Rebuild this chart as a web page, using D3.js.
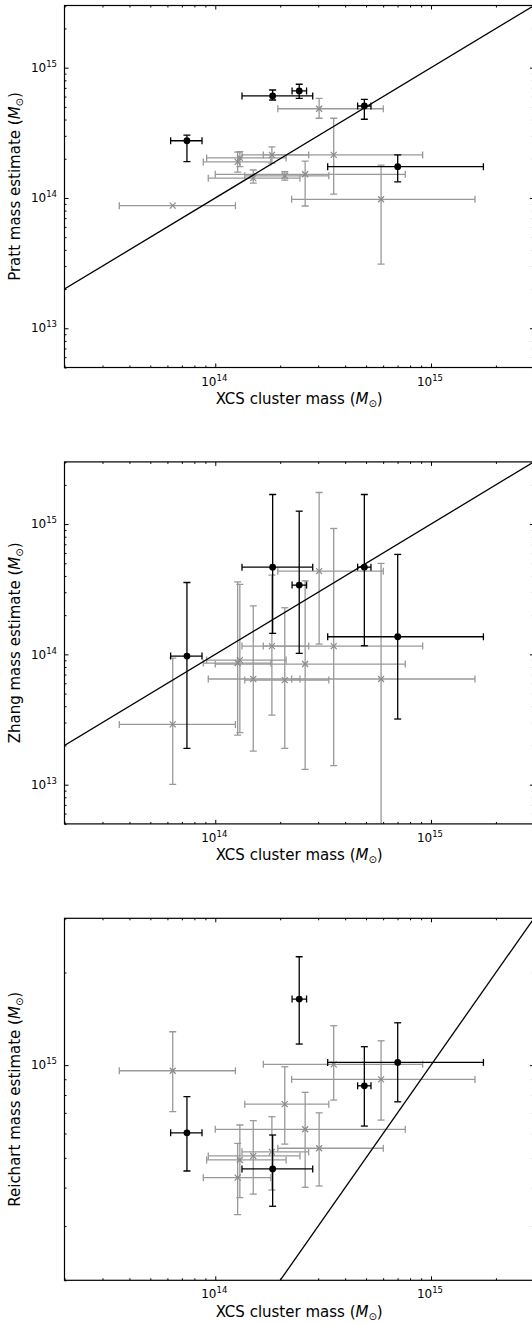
<!DOCTYPE html>
<html>
<head>
<meta charset="utf-8">
<script src="https://d3js.org/d3.v7.min.js"></script>
<style>
  body { margin: 0; background: #fff; }
  svg { display: block; }
  text { font-family: "DejaVu Sans", sans-serif; fill: #000; }
</style>
</head>
<body>
<svg id="fig" width="532" height="1324"></svg>
<script>
// Cluster order: first five are the filled-circle clusters, the remaining ten are crosses.
const nPrimary = 5;

// XCS cluster mass (M_sun) with lower / upper error bounds
const xcsMass = [7.39e13, 1.845e14, 2.45e14, 4.91e14, 7.01e14,
                 6.35e13, 1.27e14, 1.30e14, 1.50e14, 1.83e14, 2.10e14, 2.61e14, 3.03e14, 3.54e14, 5.87e14];
const xcsLow  = [6.21e13, 1.33e14, 2.27e14, 4.57e14, 3.32e14,
                 3.59e13, 8.80e13, 9.12e13, 9.28e13, 1.33e14, 1.37e14, 1.00e14, 1.95e14, 1.67e14, 2.26e14];
const xcsHigh = [8.68e13, 2.83e14, 2.65e14, 5.27e14, 1.75e15,
                 1.24e14, 1.81e14, 2.13e14, 2.47e14, 2.71e14, 3.36e14, 7.60e14, 6.01e14, 9.15e14, 1.60e15];

// Pratt mass estimates
const prattMass = [2.75e14, 6.07e14, 6.63e14, 5.08e14, 1.74e14,
                   8.73e13, 1.89e14, 2.03e14, 1.42e14, 2.14e14, 1.48e14, 1.52e14, 4.84e14, 2.14e14, 9.77e13];
const prattLow  = [1.90e14, 5.65e14, 5.82e14, 4.02e14, 1.33e14,
                   8.73e13, 1.58e14, 1.74e14, 1.30e14, 1.85e14, 1.37e14, 8.68e13, 4.09e14, 1.07e14, 3.11e13];
const prattHigh = [3.04e14, 6.74e14, 7.46e14, 5.72e14, 2.14e14,
                   8.73e13, 2.25e14, 2.27e14, 1.64e14, 2.47e14, 1.59e14, 1.92e14, 5.82e14, 4.09e14, 1.79e14];

// Zhang mass estimates
const zhangMass = [9.70e13, 4.67e14, 3.40e14, 4.67e14, 1.365e14,
                   2.90e13, 8.58e13, 9.04e13, 6.47e13, 1.158e14, 6.35e13, 8.43e13, 4.35e14, 1.158e14, 6.47e13];
const zhangLow  = [1.90e13, 1.45e14, 1.018e14, 1.164e14, 3.19e13,
                   1.007e13, 2.40e13, 2.51e13, 1.81e13, 3.42e13, 1.90e13, 1.31e13, 1.20e14, 1.40e13, 1.0e12];
const zhangHigh = [3.56e14, 1.687e15, 1.256e15, 1.687e15, 5.85e14,
                   9.37e13, 3.60e14, 3.44e14, 2.36e14, 4.06e14, 2.28e14, 3.67e14, 1.747e15, 9.25e14, 4.99e14];

// Reichart mass estimates
const reichartMass = [6.03e14, 4.60e14, 1.64e15, 8.57e14, 1.021e15,
                      9.59e14, 4.31e14, 4.92e14, 5.07e14, 5.23e14, 7.47e14, 6.19e14, 5.37e14, 1.006e15, 8.99e14];
const reichartLow  = [4.53e14, 3.48e14, 1.171e15, 6.34e14, 7.60e14,
                      7.06e14, 3.27e14, 3.71e14, 3.81e14, 3.93e14, 5.54e14, 4.01e14, 4.05e14, 7.70e14, 6.63e14];
const reichartHigh = [7.90e14, 5.93e14, 2.25e15, 1.148e15, 1.373e15,
                      1.284e15, 5.57e14, 6.39e14, 6.60e14, 6.80e14, 9.88e14, 8.16e14, 7.00e14, 1.343e15, 1.20e15];

// Axis ranges and labelled tick exponents
const xDomain = [2e13, 3e15];
const xTickExponents = [14, 15];
const yDomains = [[5e12, 3e15], [5e12, 3e15], [2e14, 3e15]];
const yTickExponents = [[13, 14, 15], [13, 14, 15], [15]];
const estimatorNames = ["Pratt", "Zhang", "Reichart"];
const xLabelText = "XCS cluster mass";

const panels = [
  { name: estimatorNames[0], mass: prattMass, low: prattLow, high: prattHigh },
  { name: estimatorNames[1], mass: zhangMass, low: zhangLow, high: zhangHigh },
  { name: estimatorNames[2], mass: reichartMass, low: reichartLow, high: reichartHigh }
];

const left = 64.5, top0 = 5.5, W = 469.4, H = 362, step = 456.4;
const grey = "#999999", greyMarker = "#8a8a8a";
const capHalf = 3.5;

const svg = d3.select("#fig");

// All decade multiples inside a log domain
function logTicks(domain, majorOnly) {
  const out = [];
  const e0 = Math.floor(Math.log10(domain[0])), e1 = Math.ceil(Math.log10(domain[1]));
  for (let e = e0; e <= e1; e++) {
    for (let m = 1; m < 10; m++) {
      if (majorOnly && m !== 1) continue;
      if (!majorOnly && m === 1) continue;
      const v = m * Math.pow(10, e);
      if (v >= domain[0] * 0.9999 && v <= domain[1] * 1.0001) out.push(v);
    }
  }
  return out;
}

function powLabel(sel, exp) {
  sel.append("tspan").text("10");
  sel.append("tspan").attr("font-size", 8.5).attr("dy", -5).text(exp);
}

function massUnit(sel) {
  sel.append("tspan").text(" (");
  sel.append("tspan").attr("font-style", "italic").text("M");
  sel.append("tspan").attr("font-size", 10).attr("dy", 3).text("\u2299");
  sel.append("tspan").attr("dy", -3).text(")");
}

panels.forEach((p, i) => {
  const top = top0 + i * step;
  const g = svg.append("g").attr("transform", `translate(${left},${top})`);
  const x = d3.scaleLog().domain(xDomain).range([0, W]);
  const y = d3.scaleLog().domain(yDomains[i]).range([H, 0]);

  const clipId = "clip" + i;
  g.append("clipPath").attr("id", clipId)
    .append("rect").attr("width", W).attr("height", H);
  const plot = g.append("g").attr("clip-path", `url(#${clipId})`);

  // error bars for one cluster
  function errorBar(layer, k, color, width) {
    const cx = x(xcsMass[k]), cy = y(p.mass[k]);
    const x0 = x(xcsLow[k]), x1 = x(xcsHigh[k]);
    const y0 = y(p.low[k]), y1 = y(p.high[k]);
    const s = layer.append("g").attr("stroke", color).attr("stroke-width", width).attr("fill", "none");
    s.append("line").attr("x1", x0).attr("x2", x1).attr("y1", cy).attr("y2", cy);
    [x0, x1].forEach(v => s.append("line").attr("x1", v).attr("x2", v).attr("y1", cy - capHalf).attr("y2", cy + capHalf));
    if (Math.abs(y0 - y1) > 0.5) {
      s.append("line").attr("x1", cx).attr("x2", cx).attr("y1", y0).attr("y2", y1);
      [y0, y1].forEach(v => s.append("line").attr("x1", cx - capHalf).attr("x2", cx + capHalf).attr("y1", v).attr("y2", v));
    }
  }

  const idx = d3.range(xcsMass.length);
  const secondary = idx.filter(k => k >= nPrimary);
  const primary = idx.filter(k => k < nPrimary);

  // crosses
  secondary.forEach(k => errorBar(plot, k, grey, 1.3));
  secondary.forEach(k => {
    const cx = x(xcsMass[k]), cy = y(p.mass[k]), r = 3;
    plot.append("path")
      .attr("d", `M${cx - r},${cy - r}L${cx + r},${cy + r}M${cx - r},${cy + r}L${cx + r},${cy - r}`)
      .attr("stroke", greyMarker).attr("stroke-width", 1.2).attr("fill", "none");
  });

  // one-to-one line
  const lo = Math.max(xDomain[0], yDomains[i][0]) / 2, hi = Math.min(xDomain[1], yDomains[i][1]) * 2;
  plot.append("path")
    .datum([lo, hi])
    .attr("d", d3.line().x(v => x(v)).y(v => y(v)))
    .attr("stroke", "#000").attr("stroke-width", 1.3).attr("fill", "none");

  // filled circles
  primary.forEach(k => errorBar(plot, k, "#000", 1.3));
  plot.selectAll("circle.pt").data(primary).join("circle")
    .attr("class", "pt")
    .attr("cx", k => x(xcsMass[k])).attr("cy", k => y(p.mass[k]))
    .attr("r", 3.4).attr("fill", "#000");

  // inward ticks on all four sides
  const xMajor = logTicks(xDomain, true), xMinor = logTicks(xDomain, false);
  const yMajor = logTicks(yDomains[i], true), yMinor = logTicks(yDomains[i], false);
  const tickSet = [
    [d3.axisTop, x, xMajor, 4, `translate(0,${H})`],
    [d3.axisTop, x, xMinor, 2, `translate(0,${H})`],
    [d3.axisBottom, x, xMajor, 4, "translate(0,0)"],
    [d3.axisBottom, x, xMinor, 2, "translate(0,0)"],
    [d3.axisRight, y, yMajor, 4, "translate(0,0)"],
    [d3.axisRight, y, yMinor, 2, "translate(0,0)"],
    [d3.axisLeft, y, yMajor, 4, `translate(${W},0)`],
    [d3.axisLeft, y, yMinor, 2, `translate(${W},0)`]
  ];
  tickSet.forEach(([fn, sc, vals, size, tr]) => {
    g.append("g").attr("transform", tr)
      .call(fn(sc).tickValues(vals).tickSize(size).tickFormat(""))
      .call(a => a.select(".domain").remove())
      .call(a => a.selectAll("line").attr("stroke", "#000").attr("stroke-width", 1));
  });

  // frame
  g.append("rect").attr("width", W).attr("height", H)
    .attr("fill", "none").attr("stroke", "#000").attr("stroke-width", 1.2);

  // tick labels
  xTickExponents.forEach(e => {
    g.append("text").attr("x", x(Math.pow(10, e)) - 1).attr("y", H + 18.2)
      .attr("text-anchor", "middle").attr("font-size", 12)
      .call(powLabel, e);
  });
  yTickExponents[i].forEach(e => {
    g.append("text").attr("x", -7.5).attr("y", y(Math.pow(10, e)) + 4.2)
      .attr("text-anchor", "end").attr("font-size", 12)
      .call(powLabel, e);
  });

  // axis titles
  g.append("text").attr("x", W / 2).attr("y", H + 36.5)
    .attr("text-anchor", "middle").attr("font-size", 15)
    .call(s => { s.append("tspan").text(xLabelText); massUnit(s); });
  g.append("text")
    .attr("transform", `translate(${20 - left},${H / 2}) rotate(-90)`)
    .attr("text-anchor", "middle").attr("font-size", 15)
    .call(s => { s.append("tspan").text(p.name + " mass estimate"); massUnit(s); });
});
</script>
</body>
</html>
